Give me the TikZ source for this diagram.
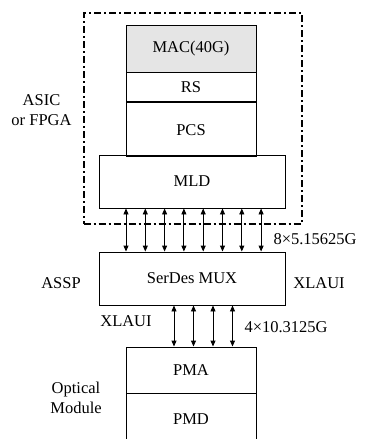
\documentclass[tikz,border=0pt]{standalone}
\usepackage{fontspec}
\setmainfont{Liberation Serif}
\usetikzlibrary{arrows.meta}
\begin{document}
\begin{tikzpicture}[x=1pt,y=-1pt,font=\fontsize{16.5}{20}\selectfont,
  blk/.style={draw,line width=.9pt,inner sep=0pt},
  lane/.style={line width=.9pt,{Triangle[length=6pt,width=5pt]}-{Triangle[length=6pt,width=5pt]}}]
\clip (0,0) rectangle (369,439);
\node[draw,line width=2pt,dash pattern=on 7pt off 3pt on 2pt off 3pt,
  minimum width=218pt,minimum height=211pt] (chip) at (192.5,118.7) {};
\node[blk,fill=black!10,minimum width=130pt,minimum height=47pt] (mac) at (191,48.5) {MAC(40G)};
\node[blk,anchor=north,minimum width=130pt,minimum height=29pt] (rs) at (mac.south) {RS};
\node[blk,anchor=north,minimum width=130pt,minimum height=54pt] (pcs) at (rs.south) {PCS};
\node[blk,minimum width=186pt,minimum height=53pt] (mld) at (192,181.5) {MLD};
\node[blk,minimum width=186pt,minimum height=53pt] (serdes) at (192,278.5) {SerDes MUX};
\node[blk,minimum width=130pt,minimum height=46pt] (pma) at (191,370) {PMA};
\node[blk,anchor=north,minimum width=130pt,minimum height=60pt] (pmd) at (pma.south) {};
\node at (191,419) (pmdtext) {PMD};
\foreach \i in {0,...,7}
  \draw[lane] ({126+19.3*\i},0 |- mld.south) -- ({126+19.3*\i},0 |- serdes.north);
\foreach \i in {0,...,3}
  \draw[lane] ({174+19.5*\i},0 |- serdes.south) -- ({174+19.5*\i},0 |- pma.north);
% labels
\node[align=center] (asic) at (41.5,110) {ASIC\\or FPGA};
\node[anchor=west] (lanes8) at (270,239) {8×5.15625G};
\node (assp) at (61,283) {ASSP};
\node (xlauir) at (319,283) {XLAUI};
\node (xlauil) at (126,321) {XLAUI};
\node[anchor=west] (lanes4) at (241,327) {4×10.3125G};
\node[align=center] (optic) at (76,397.5) {Optical\\Module};
\end{tikzpicture}
\end{document}
